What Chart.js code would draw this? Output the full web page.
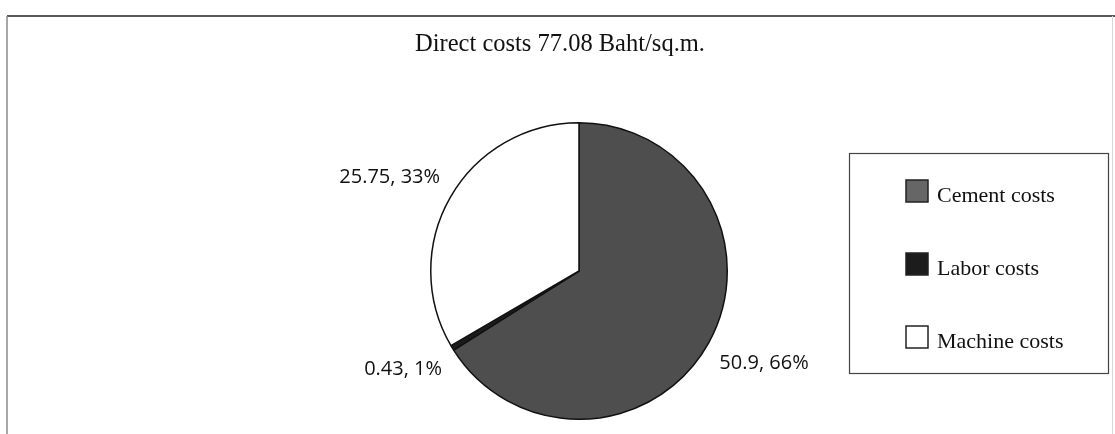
<!DOCTYPE html>
<html>
<head>
<meta charset="utf-8">
<script src="https://cdn.jsdelivr.net/npm/chart.js@4/dist/chart.umd.min.js"></script>
<style>
  html, body { margin: 0; padding: 0; background: #fff; }
  canvas { display: block; }
</style>
</head>
<body>
<canvas id="costChart" width="1115" height="434"></canvas>
<script>
const categories = ["Cement costs", "Labor costs", "Machine costs"];
const costs = [50.9, 0.43, 25.75];
const percents = [66, 1, 33];
const sliceColors = ["#4e4e4e", "#1c1c1c", "#ffffff"];
const titleText = "Direct costs 77.08 Baht/sq.m.";

// outer frame, title and the boxed legend on the right
const decorPlugin = {
  id: "decor",
  beforeDraw(chart) {
    const ctx = chart.ctx;
    ctx.save();
    ctx.fillStyle = "#fff";
    ctx.fillRect(0, 0, chart.width, chart.height);
    ctx.strokeStyle = "#5a5a5a";
    ctx.lineWidth = 2;
    ctx.beginPath();
    ctx.moveTo(7, 16);
    ctx.lineTo(chart.width, 16);
    ctx.stroke();
    ctx.strokeStyle = "#8a8a8a";
    ctx.lineWidth = 1.5;
    ctx.beginPath();
    ctx.moveTo(7, 16);
    ctx.lineTo(7, chart.height);
    ctx.stroke();
    ctx.strokeStyle = "#d8d8d8";
    ctx.lineWidth = 1;
    ctx.beginPath();
    ctx.moveTo(1112.5, 16);
    ctx.lineTo(1112.5, chart.height);
    ctx.stroke();
    ctx.restore();
  },
  afterDraw(chart) {
    const ctx = chart.ctx;
    ctx.save();
    ctx.fillStyle = "#111";
    ctx.font = "24.5px 'Liberation Serif', 'Times New Roman', serif";
    ctx.textAlign = "center";
    ctx.textBaseline = "middle";
    ctx.fillText(titleText, 560, 45);

    // legend box
    ctx.strokeStyle = "#444";
    ctx.lineWidth = 1.2;
    ctx.strokeRect(849.5, 153.5, 259, 220);
    const ds = chart.data.datasets[0];
    ctx.font = "22px 'Liberation Serif', 'Times New Roman', serif";
    ctx.textAlign = "left";
    ctx.textBaseline = "alphabetic";
    categories.forEach((name, i) => {
      const base = 202 + i * 73;
      ctx.fillStyle = i === 0 ? "#666" : ds.backgroundColor[i];
      ctx.fillRect(906, base - 22, 22, 22);
      ctx.strokeStyle = "#222";
      ctx.lineWidth = 1.5;
      ctx.strokeRect(906, base - 22, 22, 22);
      ctx.fillStyle = "#111";
      ctx.fillText(name, 937, base);
    });
    ctx.restore();
  }
};

// "value, percent" labels just outside each slice
const sliceLabels = {
  id: "sliceLabels",
  afterDatasetsDraw(chart) {
    const ctx = chart.ctx;
    const meta = chart.getDatasetMeta(0);
    ctx.save();
    ctx.fillStyle = "#111";
    ctx.font = "20px 'Open Sans', sans-serif";
    meta.data.forEach((arc, i) => {
      const p = arc.getProps(["x", "y", "startAngle", "endAngle", "outerRadius"], true);
      const mid = (p.startAngle + p.endAngle) / 2;
      const r = p.outerRadius + 12;
      const lx = p.x + Math.cos(mid) * r;
      let ly = p.y + Math.sin(mid) * r;
      const above = ly < p.y;
      ly += above ? -4 : 5;
      ctx.textAlign = lx < p.x ? "right" : "left";
      ctx.textBaseline = above ? "bottom" : "top";
      ctx.fillText(costs[i] + ", " + percents[i] + "%", lx, ly);
    });
    ctx.restore();
  }
};

new Chart(document.getElementById("costChart"), {
  type: "pie",
  data: {
    labels: categories,
    datasets: [{
      data: costs,
      backgroundColor: sliceColors,
      borderColor: "#111",
      borderWidth: 1.5
    }]
  },
  options: {
    responsive: false,
    animation: false,
    layout: { padding: { left: 430, right: 387, top: 122, bottom: 14 } },
    plugins: {
      legend: { display: false },
      tooltip: { enabled: false }
    }
  },
  plugins: [decorPlugin, sliceLabels]
});
</script>
</body>
</html>
